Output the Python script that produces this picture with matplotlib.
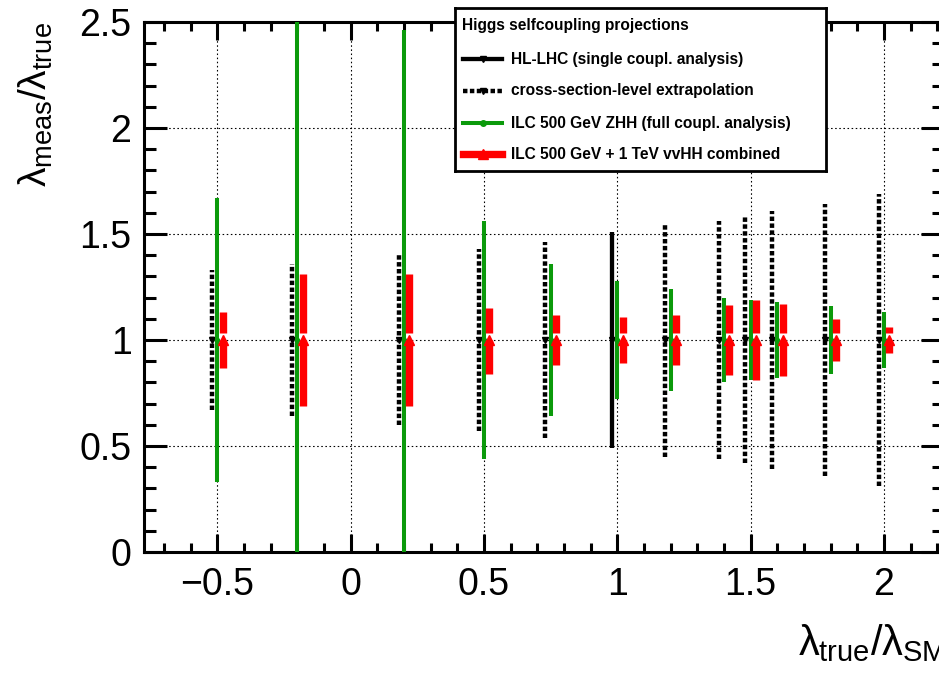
import numpy as np
import matplotlib
matplotlib.use("Agg")
import matplotlib.pyplot as plt
from matplotlib import ticker

plt.rcParams['font.family'] = ['Liberation Sans', 'DejaVu Sans']
plt.rcParams['mathtext.fontset'] = 'custom'
plt.rcParams['mathtext.rm'] = 'Liberation Sans'
plt.rcParams['mathtext.it'] = 'Liberation Sans'
plt.rcParams['mathtext.bf'] = 'Liberation Sans:bold'

# lambda_true / lambda_SM values and measured ranges (lambda_meas / lambda_true)
# HL-LHC single coupling analysis (SM point only)
hl_x  = [1.0]
hl_lo = [0.49]
hl_hi = [1.51]

# cross-section-level extrapolation
xs_x  = [-0.5, -0.2, 0.2, 0.5, 0.75, 1.2, 1.4, 1.5, 1.6, 1.8, 2.0]
xs_lo = [0.67, 0.64, 0.60, 0.57, 0.54, 0.45, 0.44, 0.42, 0.39, 0.36, 0.31]
xs_hi = [1.33, 1.36, 1.40, 1.43, 1.46, 1.55, 1.56, 1.58, 1.61, 1.64, 1.69]

# ILC 500 GeV ZHH (full coupling analysis)
zhh_x  = [-0.5, -0.2, 0.2, 0.5, 0.75, 1.0, 1.2, 1.4, 1.5, 1.6, 1.8, 2.0]
zhh_lo = [0.33, -0.8, -0.46, 0.44, 0.64, 0.72, 0.76, 0.80, 0.81, 0.82, 0.84, 0.87]
zhh_hi = [1.67, 2.8, 2.46, 1.56, 1.36, 1.28, 1.24, 1.20, 1.19, 1.18, 1.16, 1.13]

# ILC 500 GeV + 1 TeV vvHH combined
comb_x  = [-0.5, -0.2, 0.2, 0.5, 0.75, 1.0, 1.2, 1.4, 1.5, 1.6, 1.8, 2.0]
comb_lo = [0.87, 0.69, 0.69, 0.84, 0.88, 0.89, 0.88, 0.835, 0.81, 0.83, 0.90, 0.94]
comb_hi = [1.13, 1.31, 1.31, 1.15, 1.12, 1.11, 1.12, 1.165, 1.19, 1.17, 1.10, 1.06]

legend_title = "Higgs selfcoupling projections"
legend_labels = ["HL-LHC (single coupl. analysis)",
                 "cross-section-level extrapolation",
                 "ILC 500 GeV ZHH (full coupl. analysis)",
                 "ILC 500 GeV + 1 TeV vvHH combined"]

# horizontal shift of the series so they don't sit on top of each other
shift = 0.02
green = '#0b9a0b'
red = '#ff0000'
dotted = (0, (1.0, 0.55))

W, H = 939, 674
fig = plt.figure(figsize=(W / 100, H / 100), dpi=100)
ax = fig.add_axes([144 / W, 122 / H, 800 / W, 530 / H])

ax.set_xlim(-0.775, 2.225)
ax.set_ylim(0, 2.5)

# black: cross-section extrapolation (dotted) and HL-LHC (solid)
xs_xp = np.array(xs_x) - shift
ax.vlines(xs_xp, xs_lo, xs_hi, colors='k', linewidth=3.2, linestyles=[dotted], zorder=3)
ax.plot(xs_xp, np.ones(len(xs_x)), 'kv', ms=5, zorder=4)
hl_xp = np.array(hl_x) - shift
ax.vlines(hl_xp, hl_lo, hl_hi, colors='k', linewidth=3.1, zorder=3)
ax.plot(hl_xp, np.ones(len(hl_x)), 'kv', ms=5, zorder=4)

# green: ZHH
ax.vlines(zhh_x, zhh_lo, zhh_hi, colors=green, linewidth=2.9, zorder=5)
ax.plot(zhh_x, np.ones(len(zhh_x)), 'o', color=green, ms=3, zorder=5)

# red: combined, bar split around the marker
comb_xp = np.array(comb_x) + shift
gap = 0.035
ax.vlines(comb_xp, np.ones(len(comb_x)) + gap, comb_hi, colors=red, linewidth=5.3, zorder=6)
ax.vlines(comb_xp, comb_lo, np.ones(len(comb_x)), colors=red, linewidth=5.3, zorder=6)
ax.plot(comb_xp, np.ones(len(comb_x)), '^', color=red, ms=6.5, zorder=7)

# axes styling, ROOT-like
ax.xaxis.set_major_locator(ticker.MultipleLocator(0.5))
ax.xaxis.set_minor_locator(ticker.MultipleLocator(0.1))
ax.yaxis.set_major_locator(ticker.MultipleLocator(0.5))
ax.yaxis.set_minor_locator(ticker.MultipleLocator(0.1))
fmt = ticker.FuncFormatter(lambda v, p: '{:g}'.format(round(v, 3)).replace('-', '\u2212'))
ax.xaxis.set_major_formatter(fmt)
ax.yaxis.set_major_formatter(fmt)

ax.tick_params(which='both', direction='in', top=True, right=True, width=2.2, labelsize=27)
ax.tick_params(axis='x', which='major', length=12.7, pad=11)
ax.tick_params(axis='x', which='minor', length=6.7)
ax.tick_params(axis='y', which='major', length=16.3, pad=9)
ax.tick_params(axis='y', which='minor', length=8.6)
for sp in ax.spines.values():
    sp.set_linewidth(2.2)
ax.grid(True, which='major', color='k', linestyle=(0, (1.4, 2.3)), linewidth=0.8)
ax.set_axisbelow(True)

# axis titles
fig.text(36 / W, 1 - 22 / H, r'$\lambda_{\mathrm{meas}}/\lambda_{\mathrm{true}}$',
         rotation=90, ha='center', va='top', fontsize=28)
fig.text(946 / W, 1 - 655 / H, r'$\lambda_{\mathrm{true}}/\lambda_{\mathrm{SM}}$',
         ha='right', va='baseline', fontsize=30)

# legend box drawn by hand
lg = fig.add_axes([455 / W, 1 - 171 / H, 371 / W, 163 / H])
lg.set_xlim(0, 1)
lg.set_ylim(0, 1)
lg.set_xticks([])
lg.set_yticks([])
for sp in lg.spines.values():
    sp.set_linewidth(2.0)
lg.set_zorder(10)
lg.text(0.019, 0.89, legend_title, fontsize=11.2, fontweight='bold', va='center', ha='left')
rows = [0.687, 0.491, 0.294, 0.104]
sx = [0.0216, 0.1267]
lg.plot(sx, [rows[0]] * 2, color='k', lw=3.1)
lg.plot([np.mean(sx)], [rows[0]], 'kv', ms=5)
lg.plot(sx, [rows[1]] * 2, color='k', lw=3.2, linestyle=dotted)
lg.plot([np.mean(sx)], [rows[1]], 'kv', ms=5)
lg.plot(sx, [rows[2]] * 2, color=green, lw=2.9)
lg.plot([np.mean(sx)], [rows[2]], 'o', color=green, ms=4)
lg.plot(sx, [rows[3]] * 2, color=red, lw=5.3)
lg.plot([np.mean(sx)], [rows[3]], '^', color=red, ms=6.5)
for r, lab in zip(rows, legend_labels):
    lg.text(0.151, r, lab, fontsize=11.2, fontweight='bold', va='center', ha='left')

fig.savefig('out.png', dpi=100)
